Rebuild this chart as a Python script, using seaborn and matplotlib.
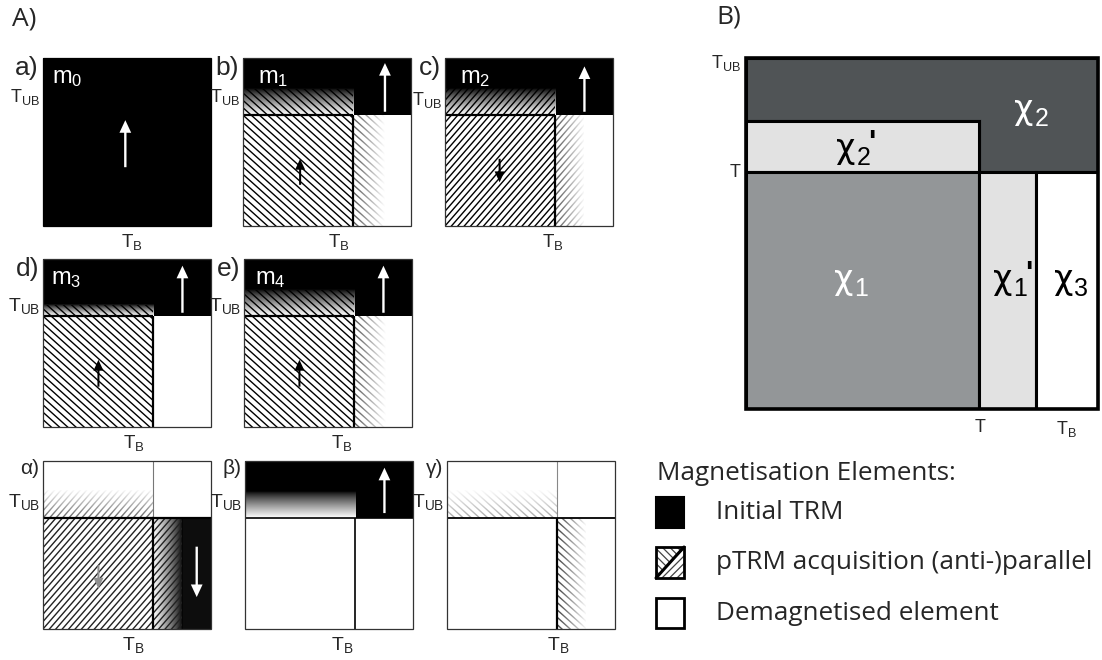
import numpy as np
import matplotlib
matplotlib.use("Agg")
import matplotlib.pyplot as plt
import seaborn as sns
from matplotlib.patches import Rectangle, Polygon
from matplotlib.collections import LineCollection

sns.set_theme(style="white")
plt.rcParams["font.family"] = ["Liberation Sans", "DejaVu Sans"]
plt.rcParams["mathtext.fontset"] = "custom"
plt.rcParams["mathtext.rm"] = "Liberation Sans"
plt.rcParams["mathtext.it"] = "Liberation Sans:italic"
plt.rcParams["mathtext.bf"] = "Liberation Sans:bold"

# ---------------- data: step diagrams (A) ----------------
panel_names = ["a", "b", "c", "d", "e", "α", "β", "γ"]
panel_kind = ["trm", "step", "step", "step", "step", "alpha", "beta", "gamma"]
moment_labels = ["0", "1", "2", "3", "4", None, None, None]
moment_x = [0.055, 0.09, 0.09, 0.045, 0.065, None, None, None]
t_b = 0.655     # heating step on the blocking axis
t_ub = 0.66     # heating step on the unblocking axis
band_top = [None, 0.815, 0.82, 0.726, 0.815, 0.827, 0.815, 0.827]
tail_edge = [None, 0.845, 0.83, None, 0.845, 0.83, None, 0.83]
hatch_sign = [0, -1, 1, -1, -1, 1, 0, -1]
trm_arrow_x = [0.49, 0.845, 0.83, 0.83, 0.83, 0.915, 0.83, None]
trm_arrow_from = [0.35, 0.68, 0.68, 0.68, 0.68, 0.49, 0.69, None]
trm_arrow_to = [0.63, 0.97, 0.95, 0.96, 0.96, 0.19, 0.96, None]
ptrm_arrow_x = [None, 0.34, 0.325, 0.33, 0.33, 0.33, None, None]
ptrm_arrow_from = [None, 0.245, 0.40, 0.24, 0.24, 0.38, None, None]
ptrm_arrow_to = [None, 0.40, 0.26, 0.40, 0.40, 0.24, None, None]
tb_label_x = [0.53, 0.57, 0.645, 0.54, 0.585, 0.54, 0.58, 0.66]
tub_label_y = [0.738, 0.738, 0.72, 0.69, 0.69, 0.726, 0.726, 0.726]

# ---------------- data: element map (B) ----------------
B_T_x = 0.662
B_TB_x = 0.824
B_T_y = 0.675
B_chi2p_top = 0.82
chi_sub = ["2", "2", "1", "1", "3"]
chi_prime = [False, True, False, True, False]
chi_x = [0.815, 0.31, 0.304, 0.756, 0.929]
chi_y = [0.826, 0.715, 0.342, 0.342, 0.342]
chi_color = ["white", "black", "white", "black", "black"]
B_colors = {"chi2": "#505456", "chi2p": "#e2e2e2", "chi1": "#939698",
            "chi1p": "#e2e2e2", "chi3": "#ffffff"}

legend_labels = ["Initial TRM", "pTRM acquisition (anti-)parallel",
                 "Demagnetised element"]

# ---------------- layout ----------------
W, H = 1102, 660
S = 168
panel_left_px = [43, 243, 445, 43, 244, 43, 245, 447]
panel_top_px = [58, 58, 58, 259, 259, 461, 461, 461]
panel_row = [0, 0, 0, 1, 1, 2, 2, 2]
label_size = [19, 19, 15]
tub_size = [13, 14, 14]
tb_size = [13.5, 13.5, 14]
PT = 0.72  # points per pixel
LEGEND_FONT = "Open Sans"

fig = plt.figure(figsize=(W / 100, H / 100), dpi=100)
fig.patch.set_facecolor("white")


def px_axes(left, top, w, h):
    return fig.add_axes([left / W, 1 - (top + h) / H, w / W, h / H])


def block(ax, x0, x1, y0, y1, color, z=1):
    ax.add_patch(Rectangle((x0, y0), x1 - x0, y1 - y0, facecolor=color,
                           edgecolor="none", zorder=z))


def vgrad(ax, x0, x1, y0, y1, z=1.5):
    g = np.linspace(1.0, 0.0, 64) ** 0.8
    ax.imshow(g.reshape(-1, 1), extent=(x0, x1, y0, y1), origin="lower",
              cmap="gray", vmin=0, vmax=1, aspect="auto",
              interpolation="bilinear", zorder=z)


def hgrad(ax, x0, x1, y0, y1, z=1.5):
    g = np.linspace(1.0, 0.0, 64) ** 0.8
    ax.imshow(g.reshape(1, -1), extent=(x0, x1, y0, y1), origin="lower",
              cmap="gray", vmin=0, vmax=1, aspect="auto",
              interpolation="bilinear", zorder=z)


def fade(ax, x0, x1, y0, y1, axis, a0, a1, z=3):
    a = np.linspace(a0, a1, 64)
    shape = (1, 64) if axis == "x" else (64, 1)
    rgba = np.ones(shape + (4,))
    rgba[..., 3] = a.reshape(shape)
    ax.imshow(rgba, extent=(x0, x1, y0, y1), origin="lower", aspect="auto",
              interpolation="bilinear", zorder=z)


def clipped_hatch(ax, clip, x0, x1, y0, y1, slope, step, color, lw=0.8, z=2):
    corners = [y - slope * x for x in (x0, x1) for y in (y0, y1)]
    c0 = np.floor(min(corners) / step) * step
    offsets = np.arange(c0, max(corners) + step, step)
    pad = 0.05 * (x1 - x0)
    xa, xb = x0 - pad, x1 + pad
    segs = [[(xa, slope * xa + c), (xb, slope * xb + c)] for c in offsets]
    lc = LineCollection(segs, colors=color, linewidths=lw, zorder=z)
    ax.add_collection(lc)
    lc.set_clip_path(clip)


def hatch_rect(ax, x0, x1, y0, y1, sign, color, lw=1.0, z=2):
    slope = 1.15 if sign > 0 else -0.9
    clip = Rectangle((x0, y0), x1 - x0, y1 - y0, transform=ax.transData)
    clipped_hatch(ax, clip, x0, x1, y0, y1, slope, 0.044, color, lw, z)


def vline(ax, x, y0, y1, lw=1.6, color="black"):
    ax.plot([x, x], [y0, y1], color=color, lw=lw, solid_capstyle="butt",
            zorder=5, clip_on=False)


def hline(ax, y, x0, x1, lw=1.6, color="black"):
    ax.plot([x0, x1], [y, y], color=color, lw=lw, solid_capstyle="butt",
            zorder=5, clip_on=False)


def moment_arrow(ax, x, y_from, y_to, color, big=True):
    if big:
        w, hw, hl = 0.014, 0.07, 0.075
    else:
        w, hw, hl = 0.012, 0.06, 0.065
    ax.arrow(x, y_from, 0, y_to - y_from, width=w, head_width=hw,
             head_length=hl, length_includes_head=True, color=color,
             linewidth=0, zorder=7)


for i, name in enumerate(panel_names):
    ax = px_axes(panel_left_px[i], panel_top_px[i], S, S)
    ax.set_xlim(0, 1)
    ax.set_ylim(0, 1)
    ax.set_axis_off()
    kind = panel_kind[i]
    bt, tail, sgn = band_top[i], tail_edge[i], hatch_sign[i]
    row = panel_row[i]

    if kind == "trm":
        block(ax, 0, 1, 0, 1, "black")
    elif kind == "step":
        block(ax, 0, 1, bt, 1, "black")
        block(ax, t_b, 1, t_ub, 1, "black")
        vgrad(ax, 0, t_b, t_ub, bt)
        hatch_rect(ax, 0, t_b, t_ub, bt, sgn, "black")
        hatch_rect(ax, 0, t_b, 0, t_ub, sgn, "black")
        if tail is not None:
            hatch_rect(ax, t_b, tail, 0, t_ub, sgn, "#1a1a1a")
            fade(ax, t_b, tail, 0, t_ub, "x", 0.25, 1.0)
        vline(ax, t_b, 0, t_ub)
        hline(ax, t_ub, 0, t_b)
    elif kind == "alpha":
        hatch_rect(ax, 0, t_b, t_ub, bt, sgn, "#555555")
        fade(ax, 0, t_b, t_ub, bt, "y", 0.1, 1.0)
        hatch_rect(ax, 0, t_b, 0, t_ub, sgn, "#222222")
        hgrad(ax, t_b, tail, 0, t_ub)
        block(ax, tail, 1, 0, t_ub, "#0d0d0d")
        hatch_rect(ax, t_b, tail, 0, t_ub, sgn, "#222222")
        vline(ax, t_b, 0, t_ub)
        vline(ax, t_b, t_ub, 1, lw=0.8, color="#777777")
        hline(ax, t_ub, 0, 1)
    elif kind == "beta":
        block(ax, 0, 1, bt, 1, "black")
        block(ax, t_b, 1, t_ub, 1, "black")
        vgrad(ax, 0, t_b, t_ub, bt)
        vline(ax, t_b, 0, t_ub, lw=1.2)
        hline(ax, t_ub, 0, 1, lw=1.2)
    elif kind == "gamma":
        hatch_rect(ax, 0, t_b, t_ub, bt, sgn, "#9a9a9a")
        fade(ax, 0, t_b, t_ub, bt, "y", 0.15, 1.0)
        hatch_rect(ax, t_b, tail, 0, t_ub, sgn, "#333333")
        fade(ax, t_b, tail, 0, t_ub, "x", 0.05, 1.0)
        vline(ax, t_b, 0, t_ub)
        vline(ax, t_b, t_ub, 1, lw=0.8, color="#888888")
        hline(ax, t_ub, 0, 1, lw=1.3)

    edge = "black" if kind == "trm" else "#333333"
    ax.add_patch(Rectangle((0, 0), 1, 1, fill=False, edgecolor=edge, lw=0.9,
                           zorder=6, clip_on=False))

    if trm_arrow_x[i] is not None:
        moment_arrow(ax, trm_arrow_x[i], trm_arrow_from[i], trm_arrow_to[i],
                     "white")
    if ptrm_arrow_x[i] is not None:
        col = "#8f8f8f" if kind == "alpha" else "black"
        moment_arrow(ax, ptrm_arrow_x[i], ptrm_arrow_from[i],
                     ptrm_arrow_to[i], col, big=False)

    if moment_labels[i] is not None:
        ax.text(moment_x[i], 0.85, r"$\mathregular{m_{%s}}$" % moment_labels[i],
                color="white", fontsize=17, va="baseline", ha="left", zorder=8)

    ax.annotate(name + ")", xy=(0, 1), xycoords="axes fraction",
                xytext=(-4 * PT, 2 * PT), textcoords="offset points",
                ha="right", va="top", fontsize=label_size[row])
    ax.annotate(r"$\mathregular{T_{UB}}$", xy=(0, tub_label_y[i]),
                xycoords="axes fraction", xytext=(-3 * PT, 0),
                textcoords="offset points", ha="right", va="baseline",
                fontsize=tub_size[row])
    ax.annotate(r"$\mathregular{T_{B}}$", xy=(tb_label_x[i], 0),
                xycoords="axes fraction", xytext=(0, -6 * PT),
                textcoords="offset points", ha="center", va="top",
                fontsize=tb_size[row])

# ---------------- element map (B) ----------------
axB = px_axes(746, 58, 352, 351)
axB.set_xlim(0, 1)
axB.set_ylim(0, 1)
axB.set_axis_off()
ek = dict(edgecolor="black", lw=2.2, joinstyle="miter", zorder=2)
axB.add_patch(Polygon([(0, B_chi2p_top), (B_T_x, B_chi2p_top), (B_T_x, B_T_y),
                       (1, B_T_y), (1, 1), (0, 1)],
                      facecolor=B_colors["chi2"], **ek))
axB.add_patch(Rectangle((0, B_T_y), B_T_x, B_chi2p_top - B_T_y,
                        facecolor=B_colors["chi2p"], **ek))
axB.add_patch(Rectangle((0, 0), B_T_x, B_T_y, facecolor=B_colors["chi1"], **ek))
axB.add_patch(Rectangle((B_T_x, 0), B_TB_x - B_T_x, B_T_y,
                        facecolor=B_colors["chi1p"], **ek))
axB.add_patch(Rectangle((B_TB_x, 0), 1 - B_TB_x, B_T_y,
                        facecolor=B_colors["chi3"], **ek))
axB.add_patch(Rectangle((0, 0), 1, 1, fill=False, edgecolor="black", lw=2.6,
                        joinstyle="miter", zorder=3, clip_on=False))

for k in range(len(chi_sub)):
    axB.text(chi_x[k], chi_y[k], "χ", color=chi_color[k], fontsize=24,
             family="DejaVu Sans", ha="right", va="baseline", zorder=5)
    axB.annotate(chi_sub[k], xy=(chi_x[k], chi_y[k]), xytext=(1, -5),
                 textcoords="offset points", color=chi_color[k], fontsize=18,
                 ha="left", va="baseline", zorder=5)
    if chi_prime[k]:
        axB.annotate("'", xy=(chi_x[k], chi_y[k]), xytext=(12, 21),
                     textcoords="offset points", color=chi_color[k],
                     fontsize=22, fontweight="bold", ha="center", va="top",
                     zorder=5)

axB.annotate(r"$\mathregular{T_{UB}}$", xy=(0, 1), xycoords="axes fraction",
             xytext=(-5 * PT, -10 * PT), textcoords="offset points",
             ha="right", va="baseline", fontsize=13)
axB.annotate("T", xy=(0, B_T_y), xycoords="axes fraction",
             xytext=(-6 * PT, 0), textcoords="offset points",
             ha="right", va="center", fontsize=13)
axB.annotate("T", xy=(B_T_x, 0), xycoords="axes fraction",
             xytext=(1 * PT, -10 * PT), textcoords="offset points",
             ha="center", va="top", fontsize=13)
axB.annotate(r"$\mathregular{T_{B}}$", xy=((B_TB_x + 1) / 2, 0),
             xycoords="axes fraction", xytext=(-1 * PT, -10 * PT),
             textcoords="offset points", ha="center", va="top", fontsize=13)

# ---------------- legend ----------------
axL = px_axes(640, 450, 462, 210)
axL.set_xlim(0, 462)
axL.set_ylim(210, 0)
axL.set_axis_off()
sw_x0, sw_x1 = 16, 44
sw_rows = [(47, 78), (97, 128), (148, 178)]
# black swatch
axL.add_patch(Rectangle((sw_x0, sw_rows[0][0]), sw_x1 - sw_x0,
                        sw_rows[0][1] - sw_rows[0][0], facecolor="black",
                        edgecolor="black", lw=1.5))
# split hatched swatch
yt, yb = sw_rows[1]
upper = Polygon([(sw_x0, yt), (sw_x1, yt), (sw_x0, yb)], closed=True,
                transform=axL.transData)
lower = Polygon([(sw_x1, yt), (sw_x1, yb), (sw_x0, yb)], closed=True,
                transform=axL.transData)
clipped_hatch(axL, upper, sw_x0, sw_x1, yt, yb, 1.0, 7.5, "#444444", lw=0.9)
clipped_hatch(axL, lower, sw_x0, sw_x1, yt, yb, -1.0, 7.5, "#444444", lw=0.9)
axL.plot([sw_x0, sw_x1], [yb, yt], color="black", lw=2.2, zorder=4)
axL.add_patch(Rectangle((sw_x0, yt), sw_x1 - sw_x0, yb - yt, fill=False,
                        edgecolor="black", lw=2.0, zorder=5))
# empty swatch
axL.add_patch(Rectangle((sw_x0, sw_rows[2][0]), sw_x1 - sw_x0,
                        sw_rows[2][1] - sw_rows[2][0], fill=False,
                        edgecolor="black", lw=2.0))

axL.text(17, 23, "Magnetisation Elements:", fontsize=18.8, family=LEGEND_FONT,
         ha="left", va="center")
for (y0, y1), lab in zip(sw_rows, legend_labels):
    axL.text(76, (y0 + y1) / 2, lab, fontsize=18.8, family=LEGEND_FONT,
             ha="left", va="center")

fig.text(12 / W, 1 - 6 / H, "A)", fontsize=19, family=LEGEND_FONT, ha="left",
         va="top")
fig.text(716 / W, 1 - 5 / H, "B)", fontsize=19, family=LEGEND_FONT, ha="left",
         va="top")

fig.savefig("out.png", dpi=100, facecolor="white")
